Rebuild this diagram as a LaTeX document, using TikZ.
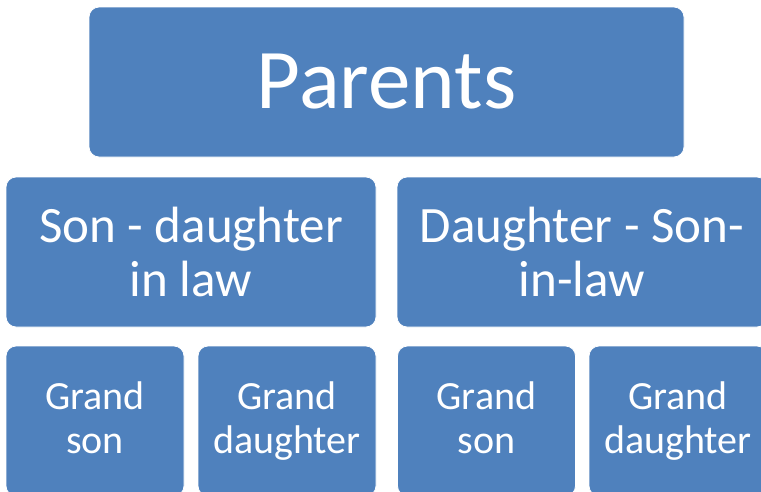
\documentclass[tikz,border=0pt]{standalone}
\usepackage{fontspec}
\setmainfont{Carlito}
\definecolor{boxblue}{HTML}{4F81BD}
\begin{document}
\begin{tikzpicture}[x=1pt,y=-1pt,
  famlybox/.style={fill=boxblue, draw=white, line width=0.8pt, rounded corners=10pt,
    inner sep=0pt, align=center, text=white, font=#1},
  famlybox/.default={\fontsize{51}{54}\selectfont}]
\useasboundingbox (0,0) rectangle (761,491);
\clip (0,0) rectangle (761,491);
\node[famlybox={\fontsize{85}{100}\selectfont}, minimum width=595pt, minimum height=150pt]
  (parents) at (386.5,82) {Parents};
\node[famlybox, minimum width=370pt, minimum height=150pt]
  (sondil) at (191,252) {Son - daughter\\in law};
\node[famlybox, minimum width=370pt, minimum height=150pt]
  (dausil) at (582,252) {Daughter - Son-\\in-law};
\tikzset{grandbox/.style={famlybox={\fontsize{40}{44}\selectfont}, minimum width=178pt, minimum height=150pt}}
\node[grandbox] (gs1) at (95,421) {Grand\\son\vphantom{g}};
\node[grandbox] (gd1) at (287,421) {Grand\\daughter};
\node[grandbox] (gs2) at (486.5,421) {Grand\\son\vphantom{g}};
\node[grandbox] (gd2) at (678,421) {Grand\\daughter};
\end{tikzpicture}
\end{document}
